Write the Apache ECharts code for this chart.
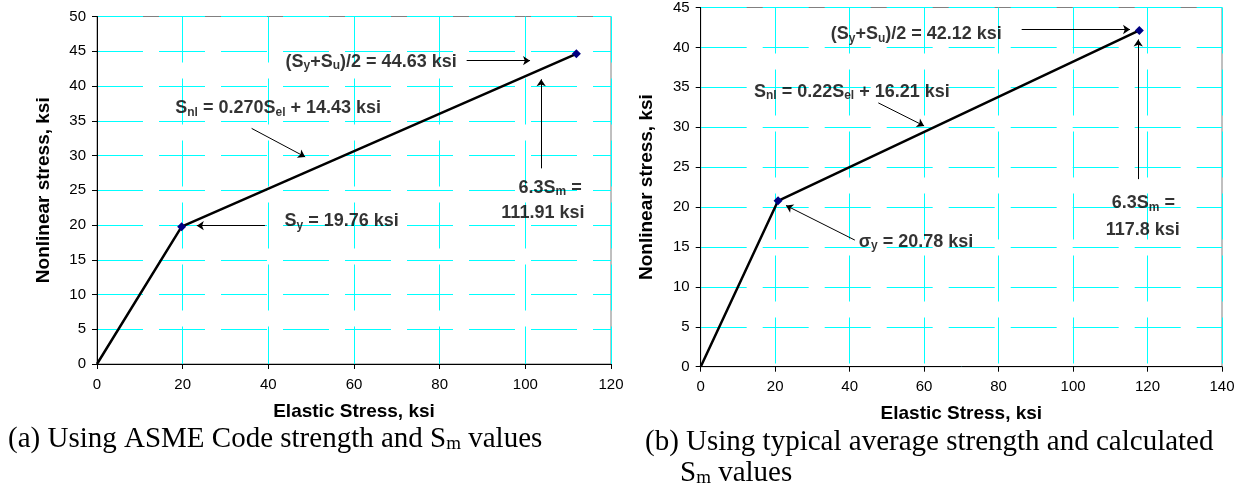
<!DOCTYPE html>
<html>
<head>
<meta charset="utf-8">
<script src="https://cdn.jsdelivr.net/npm/echarts@6/dist/echarts.min.js"></script>
<style>
html,body{margin:0;padding:0;background:#fff;}
#c{width:1248px;height:500px;}
</style>
</head>
<body>
<div id="c"></div>
<script>
// ---- data ----
const curveA = [[0, 0], [19.76, 19.76], [111.91, 44.63]];
const curveB = [[0, 0], [20.78, 20.78], [117.8, 42.12]];

const notesA = [
  ['(S{s|y}+S{s|u})/2 = 44.63 ksi', 64.0, 43.5],
  ['S{s|nl} = 0.270S{s|el} + 14.43 ksi', 42.3, 36.8],
  ['S{s|y} = 19.76 ksi', 57.1, 20.5],
  ['6.3S{s|m} =', 105.8, 25.3],
  ['111.91 ksi', 104.1, 21.7]
];
const arrowsA = [
  [86.3, 43.65, 101.1, 43.65],
  [103.7, 28.15, 103.7, 40.96],
  [36.1, 33.9, 48.6, 29.8],
  [39.2, 19.9, 23.3, 19.9]
];
const notesB = [
  ['(S{s|y}+S{s|u})/2 = 42.12 ksi', 57.9, 41.65],
  ['S{s|nl} = 0.22S{s|el} + 16.21 ksi', 40.6, 34.4],
  ['σ{s|y} = 20.78 ksi', 57.8, 15.65],
  ['6.3S{s|m} =', 118.9, 20.46],
  ['117.8 ksi', 118.7, 17.1]
];
const arrowsB = [
  [86.2, 42.24, 115.3, 42.24],
  [117.5, 23.5, 117.5, 41.0],
  [47.7, 33.05, 60.0, 30.17],
  [41.4, 15.86, 22.9, 20.2]
];
const axisA = {xMax: 120, yMax: 50};
const axisB = {xMax: 140, yMax: 45};
const xTitle = 'Elastic Stress, ksi';
const yTitle = 'Nonlinear stress, ksi';
const captionA = '(a) Using ASME Code strength and S{s|m} values';
const captionB1 = '(b) Using typical average strength and calculated';
const captionB2 = 'S{s|m} values';

// ---- chart ----
const SANS = '"Liberation Sans", Arial, sans-serif';
const SERIF = '"Liberation Serif", "Times New Roman", serif';
const gridLine = {show: true, lineStyle: {color: '#00FFFF', width: 1, type: [46, 16]}};

function xAx(idx, max) {
  return {
    type: 'value', gridIndex: idx, min: 0, max: max, interval: 20,
    axisLine: {show: true, onZero: false, lineStyle: {color: '#000', width: 1}},
    axisTick: {show: true, length: 5, lineStyle: {color: '#000'}},
    axisLabel: {color: '#000', fontSize: 15, fontFamily: SANS, margin: 13},
    splitLine: gridLine,
    name: xTitle, nameLocation: 'middle', nameGap: 38,
    nameTextStyle: {color: '#000', fontSize: 19, fontWeight: 'bold', fontFamily: SANS}
  };
}
function yAx(idx, max) {
  return {
    type: 'value', gridIndex: idx, min: 0, max: max, interval: 5,
    axisLine: {show: true, onZero: false, lineStyle: {color: '#000', width: 1}},
    axisTick: {show: true, length: 5, lineStyle: {color: '#000'}},
    axisLabel: {color: '#000', fontSize: 15, fontFamily: SANS, margin: 11},
    splitLine: gridLine,
    name: yTitle, nameLocation: 'middle', nameGap: 44, nameRotate: 90,
    nameTextStyle: {color: '#000', fontSize: 19, fontWeight: 'bold', fontFamily: SANS}
  };
}
const noteRich = {
  s: {fontSize: 12, fontWeight: 'bold', fontFamily: SANS, color: '#000', lineHeight: 8, verticalAlign: 'bottom'}
};
function curveSeries(idx, data) {
  return {
    type: 'line', xAxisIndex: idx, yAxisIndex: idx,
    data: data.map((d, i) => i === 0 ? {value: d, symbol: 'none'} : {value: d}),
    symbol: 'diamond', symbolSize: 9, showSymbol: true,
    itemStyle: {color: '#000080'},
    lineStyle: {color: '#000', width: 2.5},
    silent: true, z: 3
  };
}
function noteSeries(idx, notes, arrows) {
  return {
    type: 'scatter', xAxisIndex: idx, yAxisIndex: idx,
    symbolSize: 1, itemStyle: {color: 'rgba(0,0,0,0)'},
    silent: true, z: 4,
    data: notes.map(n => ({value: [n[1], n[2]], t: n[0]})),
    label: {
      show: true, position: 'inside', align: 'center', verticalAlign: 'middle',
      formatter: p => p.data.t,
      color: '#000', fontSize: 18, fontWeight: 'bold', fontFamily: SANS, lineHeight: 20,
      rich: noteRich
    },
    markLine: {
      silent: true, symbol: ['none', 'arrow'], symbolSize: 7, animation: false,
      lineStyle: {color: '#000', width: 1, type: 'solid'},
      label: {show: false},
      data: arrows.map(a => [{coord: [a[0], a[1]]}, {coord: [a[2], a[3]]}])
    }
  };
}
const capRich = {
  s: {fontSize: 19, fontFamily: SERIF, color: '#000', lineHeight: 10, verticalAlign: 'bottom'}
};
function cap(text, left, top) {
  return {
    text: text, left: left, top: top, padding: 0,
    textStyle: {color: '#000', fontSize: 29, fontWeight: 'normal', fontFamily: SERIF, lineHeight: 30, rich: capRich}
  };
}

const chart = echarts.init(document.getElementById('c'));
chart.setOption({
  animation: false,
  backgroundColor: '#fff',
  title: [cap(captionA, 8, 424), cap(captionB1, 645, 427), cap(captionB2, 680, 458)],
  grid: [
    {left: 97, top: 16.5, width: 514, height: 347.5, show: true, borderColor: '#808080', borderWidth: 1, backgroundColor: 'transparent'},
    {left: 700.7, top: 7.3, width: 521.3, height: 359.4, show: true, borderColor: '#808080', borderWidth: 1, backgroundColor: 'transparent'}
  ],
  xAxis: [xAx(0, axisA.xMax), xAx(1, axisB.xMax)],
  yAxis: [yAx(0, axisA.yMax), yAx(1, axisB.yMax)],
  series: [
    curveSeries(0, curveA), noteSeries(0, notesA, arrowsA),
    curveSeries(1, curveB), noteSeries(1, notesB, arrowsB)
  ]
});
</script>
</body>
</html>
